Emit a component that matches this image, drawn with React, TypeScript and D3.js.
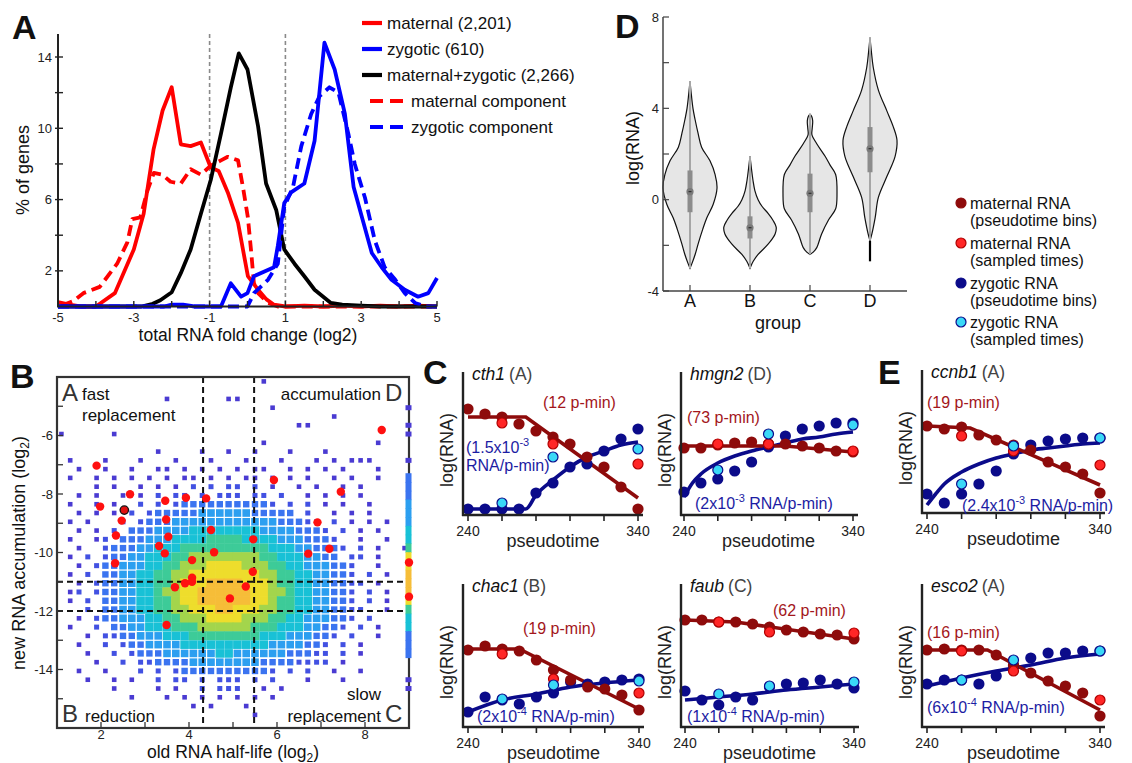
import React from "react";
import * as d3 from "d3";

const FONT = "'Liberation Sans', Arial, Helvetica, sans-serif";

// ---------- A: % of genes per bin of total RNA fold change (log2)
const maternalPct: [number, number][] = [
  [-5, 0.25], [-4.7, 0.1], [-4.4, 0], [-4.0, 0], [-3.5, 0.75], [-3.0, 3.2], [-2.74, 5.2],
  [-2.48, 8.8], [-2.24, 11], [-2.0, 12.3], [-1.76, 9.1], [-1.5, 9.0], [-1.23, 9.2],
  [-0.97, 7.8], [-0.76, 7.6], [-0.52, 6.4], [-0.25, 4.7], [0.01, 1.7], [0.28, 0.94],
  [0.5, 0.4], [0.7, 0.1], [1.0, 0], [1.5, 0.05], [2.0, 0], [2.5, 0.05], [3.0, 0],
  [3.5, 0.05], [4.0, 0], [4.5, 0.05], [5.0, 0],
];
const maternalComponentPct: [number, number][] = [
  [-4.9, 0.05], [-4.6, 0.3], [-4.33, 0.75], [-3.9, 1.1], [-3.44, 2.4], [-3.17, 3.6],
  [-3.04, 4.9], [-2.83, 5.0], [-2.64, 6.5], [-2.47, 7.5], [-2.25, 7.4], [-2.03, 7.0],
  [-1.76, 6.9], [-1.5, 7.7], [-1.23, 7.4], [-0.97, 7.9], [-0.7, 8.2], [-0.52, 8.4],
  [-0.25, 8.2], [-0.12, 6.7], [0.01, 5.0], [0.1, 3.0], [0.17, 1.3], [0.28, 0.75],
  [0.54, 0.2], [0.8, 0], [5, 0],
];
const bothPct: [number, number][] = [
  [-5, 0], [-2.8, 0], [-2.5, 0.15], [-2.3, 0.35], [-2.0, 0.8], [-1.76, 1.87], [-1.5, 3.2],
  [-1.23, 5.2], [-0.97, 7.1], [-0.7, 9.7], [-0.44, 12.3], [-0.23, 14.2], [0, 13.3],
  [0.28, 10.1], [0.49, 6.9], [0.76, 5.4], [0.97, 3.2], [1.24, 2.4], [1.5, 1.7],
  [1.77, 0.94], [2.2, 0.2], [2.5, 0.1], [3, 0.05], [3.5, 0], [5, 0],
];
const zygoticPct: [number, number][] = [
  [-5, 0], [-2.2, 0], [-2.0, 0.1], [-1.7, 0.1], [-1.4, 0], [-0.7, 0], [-0.44, 1.3],
  [-0.17, 0.55], [0.0, 0.75], [0.17, 1.7], [0.7, 2.2], [0.8, 3.4], [0.97, 5.8],
  [1.15, 6.4], [1.5, 6.9], [1.77, 9.3], [2.03, 14.8], [2.3, 13.3], [2.57, 10.8],
  [2.8, 6.7], [3.06, 4.7], [3.28, 3.0], [3.54, 2.2], [3.8, 1.5], [4.15, 0.94],
  [4.5, 0.55], [4.77, 0.75], [5.0, 1.6],
];
const zygoticComponentPct: [number, number][] = [
  [-5, 0], [0.0, 0], [0.17, 0.75], [0.54, 1.5], [0.8, 2.4], [0.97, 5.6], [1.2, 6.7],
  [1.42, 9.0], [1.68, 10.8], [1.9, 11.8], [2.16, 12.3], [2.4, 12.0], [2.66, 9.7],
  [2.83, 8.0], [3.1, 6.1], [3.36, 3.7], [3.62, 2.2], [3.9, 1.5], [4.15, 0.75],
  [4.42, 0.2], [4.7, 0], [5, 0],
];
const histLegend = [
  "maternal (2,201)",
  "zygotic (610)",
  "maternal+zygotic (2,266)",
  "maternal component",
  "zygotic component",
];
const foldTicks = [-5, -4, -3, -2, -1, 0, 1, 2, 3, 4, 5];
const foldLabels = [-5, -3, -1, 1, 3, 5];
const pctTicks = [2, 4, 6, 8, 10, 12, 14];
const pctLabels = [2, 6, 10, 14];
const foldCuts = [-1, 1];

// ---------- D: violins of log(RNA) per group
const groups = ["A", "B", "C", "D"];
const violinA: [number, number][] = [
  [-3.0, 0], [-2.8, 0.07], [-2.4, 0.19], [-1.9, 0.31], [-1.3, 0.47], [-0.8, 0.62],
  [-0.2, 0.86], [0.5, 1.0], [1.1, 0.93], [1.7, 0.74], [2.3, 0.43], [2.9, 0.3],
  [3.5, 0.19], [4.0, 0.11], [4.6, 0.05], [5.2, 0],
];
const violinB: [number, number][] = [
  [-3.0, 0], [-2.7, 0.12], [-2.4, 0.3], [-1.95, 0.67], [-1.5, 0.93], [-1.2, 0.97],
  [-0.9, 0.85], [-0.6, 0.67], [-0.3, 0.45], [0, 0.3], [0.4, 0.18], [0.85, 0.11],
  [1.4, 0.05], [1.9, 0],
];
const violinC: [number, number][] = [
  [-2.4, 0], [-2.3, 0.12], [-2.1, 0.25], [-1.5, 0.43], [-0.9, 0.68], [-0.4, 0.95],
  [0.25, 1.0], [1.1, 0.95], [1.5, 0.75], [1.9, 0.56], [2.45, 0.25], [2.85, 0.07],
  [3.1, 0.08], [3.45, 0.1], [3.65, 0.06], [3.75, 0],
];
const violinD: [number, number][] = [
  [-1.8, 0], [-1.5, 0.07], [-0.8, 0.19], [0.1, 0.31], [1.0, 0.62], [1.9, 0.93],
  [2.6, 1.0], [3.2, 0.86], [3.9, 0.62], [4.8, 0.31], [5.8, 0.12], [6.5, 0.05], [7.1, 0],
];
const violins = [violinA, violinB, violinC, violinD];
const groupMedian = [0.35, -1.23, 0.28, 2.23];
const groupQ1 = [-0.55, -1.7, -0.55, 1.2];
const groupQ3 = [1.28, -0.73, 1.14, 3.18];
const groupMin = [-3.0, -3.0, -2.4, -1.8];
const groupMax = [5.2, 1.9, 3.75, 7.1];
const groupDTail = -2.7;
const rnaTicks = [-4, -2, 0, 2, 4, 6, 8];
const rnaLabels = [-4, 0, 4, 8];

// ---------- legend of C / E
const dotLegend = [
  ["maternal RNA", "(pseudotime bins)"],
  ["maternal RNA", "(sampled times)"],
  ["zygotic RNA", "(pseudotime bins)"],
  ["zygotic RNA", "(sampled times)"],
];

// ---------- B: old RNA half-life vs new RNA accumulation (density of genes)
const halfLifeTicks = [2, 3, 4, 5, 6, 7, 8];
const halfLifeLabels = [2, 4, 6, 8];
const accumTicks = [-5, -6, -7, -8, -9, -10, -11, -12, -13, -14, -15];
const accumLabels = [-6, -8, -10, -12, -14];
const halfLifeCuts = [4.32, 5.48];
const accumCuts = [-11, -12];
// density bins: column c -> half-life 1.1 + 0.2c, row r -> accumulation -4.15 - 0.3r
const binX0 = 1.1, binDX = 0.2, binY0 = -4.15, binDY = 0.3;
const densityRows = [
  ["..........", "..........", "...1......", ".........."],
  ["..........", "..........", "..........", ".........."],
  ["..........", "..1......1", "1.........", ".........."],
  ["..........", "..........", "....1.....", ".........."],
  ["..........", "..........", "..........", ".1........"],
  ["..........", "..........", ".......11.", ".........."],
  ["1.....1...", "..........", "..........", ".........."],
  ["..........", "..........", "...1......", "......1..."],
  ["..........", ".1....1..1", "..1...1...", "1........."],
  [".1...1...1", "...1...1..", ".1...1...1", ".1.111...."],
  ["..1..1..1.", ".11.1.1.1.", "1.11..1.1.", "1.1...1..."],
  [".1..1.1.1.", "1.1.11.1.1", ".11.1.1.1.", ".1.1..1..."],
  ["....1.1..1", ".1.1.2.2.2", "2.2.1..1.1", "..1.1....."],
  ["..1.1..1.1", ".2.22.2.22", "2.22.2..1.", "1.1.1....."],
  [".1..1.1..2", ".2.2333333", "33332.2.2.", "1.1..1...."],
  ["..1.1.1.2.", "2333334444", "4433333.2.", ".1.1.1...."],
  [".1.1...2.2", "3334444444", "4444433322", ".2.1.1.1.."],
  ["..1.1.2.33", "3444455555", "5554444333", "2.2.1.1..."],
  [".1..12.333", "4445555666", "6555544433", "32..1..1.."],
  ["..1..23334", "4555666666", "6666555443", "332.2.1..1."],
  [".1.2.23344", "5556677777", "7776655544", "33.22.1..."],
  ["..1.233444", "5566777888", "8777665544", "4332..1..."],
  [".1.2.33445", "5667788888", "8887766554", "4332.2.1.."],
  ["..1.233445", "5667888999", "9888766554", "43322.1..."],
  [".12.233445", "5677889999", "9988776554", "4332.2.1.."],
  [".1.2.33445", "5667889999", "9988766554", "4332.2.1.."],
  ["...2.33445", "5667788899", "8887766554", "43322..1.."],
  ["..1.233444", "5566777888", "8777665544", "4332.2...."],
  [".1..2.3344", "5556667777", "7766655544", "332.2.1..."],
  ["...1.22334", "4455566666", "6665554443", "32.2..1..."],
  ["..1..2.233", "4444555555", "5555444433", "2.2.1....."],
  ["...1..2.23", "3344444455", "4444443332", "2.2.1....."],
  ["....1..2.2", "2333344444", "4443333222", "2.1......."],
  ["..1..1...2", ".2.2333333", "33332.2.2.", ".1..1....."],
  ["...1..1.1.", ".2.22.2.22", "2.2.2...1.", "..1......."],
  ["......1...", ".1.1..2.22", "2..1.1....", ".........."],
  ["........1.", "..1.1.1.1.", "1.1.1.....", ".........."],
  ["..........", ".....1.1..", ".1........", ".........."],
  ["..........", "..........", "..1.......", ".........."],
  ["..........", "..........", "..........", ".........."],
].map((g) => g.join("").slice(0, 40));
// genes with half-life beyond the axis, piled on the right edge (same rows)
const edgeColumn = "...1.11..1.333444556889998655333..11....";
const highlightGenes: [number, number][] = [
  [1.9, -7.03], [1.98, -8.43], [2.66, -8.01], [2.47, -8.91], [2.34, -9.42],
  [2.32, -10.37], [3.46, -8.23], [3.93, -8.13], [4.39, -8.15], [3.48, -8.87],
  [3.53, -9.46], [3.32, -9.78], [3.45, -10.03], [4.07, -10.26], [4.5, -9.23],
  [4.57, -9.99], [4.07, -10.86], [4.07, -11.0], [3.91, -11.05], [3.68, -11.19],
  [3.49, -12.48], [4.93, -11.57], [5.29, -11.16], [5.45, -10.66], [5.46, -9.55],
  [5.93, -7.52], [7.45, -7.92], [6.92, -8.97], [6.71, -10.04], [7.19, -9.87],
  [8.38, -5.81], [9, -10.34], [9, -11.51],
];
const outlinedGene: [number, number] = [2.53, -8.55];

// ---------- C / E: time courses (log RNA in arbitrary units)
const binTimes = [240, 250, 260, 270, 280, 290, 300, 310, 320, 330, 340];
const sampledTimes = [260, 290, 340];
const timeTicks = [240, 260, 280, 300, 320, 340];
const timeLabels = [240, 340];

const cth1 = {
  name: "cth1", group: "A", halfLife: "12", rate: ["1.5x10", "-3"],
  matBins: [11.1, 10.6, 10.3, 9.6, 8.9, 8.3, 7.6, 6.3, 5.3, 3.3, 1.1],
  matSampled: [9.7, 7.6, 5.6],
  zygBins: [1.1, 1.1, 1.1, 1.1, 2.7, 3.7, 5.3, 5.6, 6.9, 8.1, 9.1],
  zygSampled: [1.7, 6.3, 7.1],
  matFit: [[240, 10.3], [274, 10.3], [340, 2.2]],
  zygFit: [[240, 1.1], [274, 1.1], [280, 2.5], [290, 4.0], [300, 5.3], [310, 6.3], [320, 6.9], [330, 7.5], [340, 7.8]],
};
const hmgn2 = {
  name: "hmgn2", group: "D", halfLife: "73", rate: ["2x10", "-3"],
  matBins: [7.2, 7.2, 7.5, 7.7, 7.8, 7.6, 7.6, 7.4, 7.2, 6.9, 6.8],
  matSampled: [7.6, 7.6, 6.9],
  zygBins: [2.8, 3.7, 4.1, 4.9, 5.8, 7.3, 8.4, 9.1, 9.4, 9.7, 9.7],
  zygSampled: [5.0, 8.6, 9.5],
  matFit: [[240, 7.4], [300, 7.4], [340, 6.8]],
  zygFit: [[240, 2.3], [245, 3.7], [250, 4.6], [260, 5.7], [270, 6.4], [280, 6.9], [290, 7.3], [300, 7.7], [310, 8.1], [320, 8.3], [330, 8.6], [340, 8.8]],
};
const chac1 = {
  name: "chac1", group: "B", halfLife: "19", rate: ["2x10", "-4"],
  matBins: [8.2, 8.6, 8.3, 8.1, 7.2, 6.2, 5.2, 4.5, 4.3, 3.7, 2.2],
  matSampled: [7.8, 5.3, 3.9],
  zygBins: [2.0, 3.5, 3.2, 2.8, 3.5, 3.9, 5.0, 4.8, 5.0, 5.2, 5.3],
  zygSampled: [3.3, 4.7, 5.1],
  matFit: [[240, 8.3], [270, 8.3], [340, 2.3]],
  zygFit: [[240, 2.0], [260, 3.2], [280, 3.8], [300, 4.5], [320, 4.9], [340, 5.2]],
};
const faub = {
  name: "faub", group: "C", halfLife: "62", rate: ["1x10", "-4"],
  matBins: [11.2, 11.2, 11.0, 11.0, 10.8, 10.5, 10.2, 10.0, 9.8, 9.7, 9.3],
  matSampled: [11.0, 10.0, 9.9],
  zygBins: [4.1, 3.2, 2.7, 3.5, 3.2, 4.5, 4.8, 4.9, 5.2, 4.8, 4.4],
  zygSampled: [3.8, 4.6, 5.0],
  matFit: [[240, 11.2], [270, 11.0], [340, 9.3]],
  zygFit: [[240, 3.2], [260, 3.5], [280, 3.8], [300, 4.2], [320, 4.5], [340, 4.8]],
};
const ccnb1 = {
  name: "ccnb1", group: "A", halfLife: "19", rate: ["2.4x10", "-3"],
  matBins: [9.2, 8.9, 9.1, 8.3, 7.8, 7.3, 6.8, 5.6, 5.1, 4.4, 2.5],
  matSampled: [8.2, 6.7, 5.3],
  zygBins: [2.4, 1.5, 2.4, 3.4, 4.7, 6.4, 7.3, 7.7, 7.9, 8.0, 8.0],
  zygSampled: [3.4, 7.2, 8.0],
  matFit: [[240, 9.2], [265, 9.0], [340, 3.3]],
  zygFit: [[240, 1.3], [245, 2.4], [250, 3.4], [260, 4.6], [270, 5.4], [280, 6.0], [290, 6.4], [300, 6.8], [310, 7.0], [320, 7.2], [330, 7.4], [340, 7.5]],
};
const esco2 = {
  name: "esco2", group: "A", halfLife: "16", rate: ["6x10", "-4"],
  matBins: [8.2, 8.3, 8.2, 8.2, 7.7, 6.7, 5.9, 5.1, 4.6, 3.9, 1.6],
  matSampled: [8.1, 6.1, 3.2],
  zygBins: [4.8, 5.2, 5.2, 4.8, 5.6, 6.6, 7.4, 7.9, 7.9, 8.1, 8.1],
  zygSampled: [5.2, 7.2, 8.1],
  matFit: [[240, 8.2], [275, 8.2], [340, 2.2]],
  zygFit: [[240, 4.6], [260, 5.4], [280, 6.1], [300, 6.7], [320, 7.4], [340, 7.8]],
};

const MAT_DARK = "#8e0b0b";
const MAT_LIGHT = "#ff2626";
const ZYG_DARK = "#0b0b8a";
const ZYG_LIGHT = "#3ad8f7";
const MAT_TEXT = "#a3161b";
const ZYG_TEXT = "#1c1ca3";

function PanelA() {
  const x = d3.scaleLinear().domain([-5, 5]).range([58, 437]);
  const y = d3.scaleLinear().domain([0, 14]).range([306.5, 57]);
  const line = d3.line<[number, number]>().x((d) => x(d[0])).y((d) => y(d[1]));
  const styles = [
    { color: "#ff0000", dash: undefined },
    { color: "#0000ff", dash: undefined },
    { color: "#000000", dash: undefined },
    { color: "#ff0000", dash: "11 6" },
    { color: "#0000ff", dash: "11 6" },
  ];
  const series = [maternalPct, zygoticPct, bothPct, maternalComponentPct, zygoticComponentPct];
  const order = [3, 0, 2, 1, 4];
  const legendY = [23, 49, 75, 101, 127];
  return (
    <g>
      {foldCuts.map((v) => (
        <line key={v} x1={x(v)} x2={x(v)} y1={34} y2={306} stroke="#8a8a8a" strokeWidth={1.6} strokeDasharray="4 3" />
      ))}
      {order.map((i) => (
        <path key={i} d={line(series[i]) || ""} fill="none" stroke={styles[i].color}
          strokeWidth={3.8} strokeDasharray={styles[i].dash} strokeLinejoin="round" />
      ))}
      <line x1={58} x2={58} y1={34} y2={307} stroke="#222" strokeWidth={2} />
      <line x1={57} x2={437} y1={306.5} y2={306.5} stroke="#222" strokeWidth={2} />
      {pctTicks.map((t) => (
        <line key={t} x1={55} x2={63} y1={y(t)} y2={y(t)} stroke="#222" strokeWidth={1.4} />
      ))}
      {pctLabels.map((t) => (
        <text key={t} x={52} y={y(t) + 4.5} textAnchor="end" fontSize={13} fill="#222">{t}</text>
      ))}
      {foldTicks.map((t) => (
        <line key={t} x1={x(t)} x2={x(t)} y1={301} y2={306.5} stroke="#222" strokeWidth={1.4} />
      ))}
      {foldLabels.map((t) => (
        <text key={t} x={x(t)} y={322} textAnchor="middle" fontSize={13} fill="#222">{t}</text>
      ))}
      <text x={248} y={341} textAnchor="middle" fontSize={17.5} fill="#111">total RNA fold change (log2)</text>
      <text transform="translate(29,170) rotate(-90)" textAnchor="middle" fontSize={18} fill="#111">% of genes</text>
      {histLegend.map((label, i) => {
        const dashed = !!styles[i].dash;
        const lx0 = dashed ? 370 : 362;
        const lx1 = dashed ? 405 : 382;
        return (
          <g key={label}>
            <line x1={lx0} x2={lx1} y1={legendY[i]} y2={legendY[i]} stroke={styles[i].color}
              strokeWidth={4.2} strokeDasharray={dashed ? "13 7" : undefined} />
            <text x={dashed ? 411 : 387} y={legendY[i] + 6} fontSize={17} fill="#111">{label}</text>
          </g>
        );
      })}
    </g>
  );
}

function PanelD() {
  const x = d3.scalePoint<string>().domain(groups).range([690, 870]);
  const y = d3.scaleLinear().domain([-4, 8]).range([291, 17]);
  const w = d3.scaleLinear().domain([0, 1]).range([0, 27]);
  return (
    <g>
      {groups.map((g, i) => {
        const cx = x(g) as number;
        const area = d3.area<[number, number]>()
          .y((d) => y(d[0]))
          .x0((d) => cx - w(d[1]))
          .x1((d) => cx + w(d[1]))
          .curve(d3.curveCatmullRom);
        return (
          <g key={g}>
            <path d={area(violins[i]) || ""} fill="#e6e6e6" stroke="#111" strokeWidth={1.2} />
            <line x1={cx} x2={cx} y1={y(groupMin[i])} y2={y(groupMax[i])} stroke="#a6a6a6" strokeWidth={2} />
            <line x1={cx} x2={cx} y1={y(groupQ1[i])} y2={y(groupQ3[i])} stroke="#8c8c8c" strokeWidth={5} />
            <circle cx={cx} cy={y(groupMedian[i])} r={3.6} fill="#7a7a7a" />
            <line x1={cx - 1.5} x2={cx + 1.5} y1={y(groupMedian[i])} y2={y(groupMedian[i])} stroke="#222" strokeWidth={1} />
          </g>
        );
      })}
      <line x1={x("D") as number} x2={x("D") as number} y1={y(groupMin[3])} y2={y(groupDTail)} stroke="#000" strokeWidth={2.2} />
      <line x1={663} x2={663} y1={17} y2={291} stroke="#444" strokeWidth={1.5} />
      <line x1={663} x2={907} y1={291} y2={291} stroke="#444" strokeWidth={1.5} />
      {rnaTicks.map((t) => (
        <line key={t} x1={663} x2={669} y1={y(t)} y2={y(t)} stroke="#444" strokeWidth={1.2} />
      ))}
      {rnaLabels.map((t) => (
        <text key={t} x={659} y={y(t) + 4.5} textAnchor="end" fontSize={13} fill="#222">{t}</text>
      ))}
      {groups.map((g) => (
        <g key={g}>
          <line x1={x(g) as number} x2={x(g) as number} y1={285} y2={291} stroke="#444" strokeWidth={1.2} />
          <text x={x(g) as number} y={307} textAnchor="middle" fontSize={18} fill="#111">{g}</text>
        </g>
      ))}
      <text x={778} y={329} textAnchor="middle" fontSize={18} fill="#111">group</text>
      <text transform="translate(639,148) rotate(-90)" textAnchor="middle" fontSize={18} fill="#111">log(RNA)</text>
    </g>
  );
}

function LegendCE() {
  const fills = [MAT_DARK, MAT_LIGHT, ZYG_DARK, ZYG_LIGHT];
  const strokes = [MAT_DARK, "#b00000", ZYG_DARK, ZYG_DARK];
  const rowY = [203, 243, 283, 322];
  return (
    <g>
      {dotLegend.map((lines, i) => (
        <g key={i}>
          <circle cx={961} cy={rowY[i]} r={5} fill={fills[i]} stroke={strokes[i]} strokeWidth={1.2} />
          <text x={970} y={rowY[i] + 5.5} fontSize={16} fill="#111">{lines[0]}</text>
          <text x={970} y={rowY[i] + 23} fontSize={16} fill="#111">{lines[1]}</text>
        </g>
      ))}
    </g>
  );
}

function PanelB() {
  const x = d3.scaleLinear().domain([1, 9]).range([57, 409]);
  const y = d3.scaleLinear().domain([-4, -16]).range([377, 728]);
  const colors = ["", "#4a3bd2", "#4251e2", "#3b74f0", "#2c9ff0", "#18c1d6", "#3dcb98", "#a3d54c", "#eedd2c", "#f6bd38"];
  const sizes = [0, 4.6, 5, 6.4, 7.6, 8.6, 9.1, 9.4, 9.4, 9.4];
  const cells: React.ReactNode[] = [];
  densityRows.forEach((row, r) => {
    for (let c = 0; c < row.length; c++) {
      const lv = Number(row[c]);
      if (!lv) continue;
      const s = sizes[lv];
      cells.push(
        <rect key={`${r}-${c}`} x={x(binX0 + c * binDX) - s / 2} y={y(binY0 - r * binDY) - s / 2}
          width={s} height={s} fill={colors[lv]} />
      );
    }
  });
  const edge: React.ReactNode[] = [];
  for (let r = 0; r < edgeColumn.length; r++) {
    const lv = Number(edgeColumn[r]);
    if (!lv) continue;
    const h = lv >= 3 ? 9.4 : 5;
    edge.push(<rect key={r} x={x(9) - 3.5} y={y(binY0 - r * binDY) - h / 2} width={6} height={h} fill={colors[lv]} />);
  }
  return (
    <g>
      {cells}
      {halfLifeCuts.map((v) => (
        <line key={v} x1={x(v)} x2={x(v)} y1={377} y2={728} stroke="#111" strokeWidth={2} strokeDasharray="6 4" />
      ))}
      {accumCuts.map((v) => (
        <line key={v} x1={57} x2={409} y1={y(v)} y2={y(v)} stroke="#111" strokeWidth={2} strokeDasharray="6 4" />
      ))}
      <rect x={57} y={377} width={352} height={351} fill="none" stroke="#333" strokeWidth={2.2} />
      {edge}
      {highlightGenes.map(([hx, hy], i) => (
        <circle key={i} cx={x(hx)} cy={y(hy)} r={4.2} fill="#ff1010" />
      ))}
      <circle cx={x(outlinedGene[0])} cy={y(outlinedGene[1])} r={4.2} fill="#e01010" stroke="#111" strokeWidth={1.3} />
      {halfLifeTicks.map((t) => (
        <line key={t} x1={x(t)} x2={x(t)} y1={722} y2={728} stroke="#333" strokeWidth={1.3} />
      ))}
      {halfLifeLabels.map((t) => (
        <text key={t} x={x(t)} y={739} textAnchor="middle" fontSize={13} fill="#222">{t}</text>
      ))}
      {accumTicks.map((t) => (
        <line key={t} x1={57} x2={63} y1={y(t)} y2={y(t)} stroke="#333" strokeWidth={1.3} />
      ))}
      {accumLabels.map((t) => (
        <text key={t} x={53} y={y(t) + 4.5} textAnchor="end" fontSize={13} fill="#222">{t}</text>
      ))}
      <text x={233} y={758} textAnchor="middle" fontSize={17.5} fill="#111">
        old RNA half-life (log<tspan dy={3.5} fontSize={12}>2</tspan><tspan dy={-3.5}>)</tspan>
      </text>
      <text transform="translate(25,553) rotate(-90)" textAnchor="middle" fontSize={18} fill="#111">
        new RNA accumulation (log<tspan dy={4} fontSize={12}>2</tspan><tspan dy={-4}>)</tspan>
      </text>
      <g fill="#333">
        <text x={62} y={401} fontSize={24}>A</text>
        <text x={82} y={400} fontSize={17} fill="#111">fast</text>
        <text x={82} y={421} fontSize={17} fill="#111">replacement</text>
        <text x={381} y={400} textAnchor="end" fontSize={17} fill="#111">accumulation</text>
        <text x={385} y={401} fontSize={24}>D</text>
        <text x={62} y={722} fontSize={24}>B</text>
        <text x={85} y={722} fontSize={17} fill="#111">reduction</text>
        <text x={381} y={700} textAnchor="end" fontSize={17} fill="#111">slow</text>
        <text x={381} y={722} textAnchor="end" fontSize={17} fill="#111">replacement</text>
        <text x={385} y={722} fontSize={24}>C</text>
      </g>
    </g>
  );
}

type Gene = typeof cth1;
type Layout = {
  x0: number; axisY: number; xL: number; xR: number;
  mat: [number, number]; zyg: [number, number]; twoLine?: boolean;
};

function TimeCourse({ gene, lay }: { gene: Gene; lay: Layout }) {
  const x = d3.scaleLinear().domain([240, 340]).range([lay.xL, lay.xR]);
  const y = d3.scaleLinear().domain([0, 15]).range([lay.axisY + 5, lay.axisY - 145]);
  const fit = d3.line<number[]>().x((d) => x(d[0])).y((d) => y(d[1]));
  const smooth = d3.line<number[]>().x((d) => x(d[0])).y((d) => y(d[1])).curve(d3.curveMonotoneX);
  const r = 5.6;
  const [mant, exp] = gene.rate;
  return (
    <g>
      <path d={smooth(gene.zygFit) || ""} fill="none" stroke={ZYG_DARK} strokeWidth={3.6} />
      <path d={fit(gene.matFit) || ""} fill="none" stroke={MAT_DARK} strokeWidth={3.6} />
      {gene.zygBins.map((v, i) => (
        <circle key={`zb${i}`} cx={x(binTimes[i])} cy={y(v)} r={r} fill={ZYG_DARK} />
      ))}
      {gene.matBins.map((v, i) => (
        <circle key={`mb${i}`} cx={x(binTimes[i])} cy={y(v)} r={r} fill={MAT_DARK} />
      ))}
      {gene.matSampled.map((v, i) => (
        <circle key={`ms${i}`} cx={x(sampledTimes[i])} cy={y(v)} r={r - 0.6} fill={MAT_LIGHT} stroke="#b00000" strokeWidth={1.2} />
      ))}
      {gene.zygSampled.map((v, i) => (
        <circle key={`zs${i}`} cx={x(sampledTimes[i])} cy={y(v)} r={r - 0.6} fill={ZYG_LIGHT} stroke={ZYG_DARK} strokeWidth={1.2} />
      ))}
      <line x1={lay.x0} x2={lay.x0} y1={lay.axisY - 143} y2={lay.axisY + 1} stroke="#222" strokeWidth={2.4} />
      <line x1={lay.x0 - 1} x2={lay.xR + 5} y1={lay.axisY} y2={lay.axisY} stroke="#222" strokeWidth={2.4} />
      {timeTicks.map((t) => (
        <line key={t} x1={x(t)} x2={x(t)} y1={lay.axisY} y2={lay.axisY + 6} stroke="#222" strokeWidth={1.6} />
      ))}
      {timeLabels.map((t) => (
        <text key={t} x={x(t)} y={lay.axisY + 21} textAnchor="middle" fontSize={14} fill="#222">{t}</text>
      ))}
      <text x={(lay.xL + lay.xR) / 2} y={lay.axisY + 32} textAnchor="middle" fontSize={18} fill="#222">pseudotime</text>
      <text transform={`translate(${lay.x0 - 10},${lay.axisY - 65}) rotate(-90)`} textAnchor="middle" fontSize={18} fill="#222">log(RNA)</text>
      <text x={lay.x0 + 9} y={lay.axisY - 135} fontSize={17.5} fill="#111">
        <tspan fontStyle="italic">{gene.name}</tspan>
        <tspan fill="#444" dx={4}>({gene.group})</tspan>
      </text>
      <text x={lay.mat[0]} y={lay.mat[1]} fontSize={16} fill={MAT_TEXT}>({gene.halfLife} p-min)</text>
      {lay.twoLine ? (
        <g fill={ZYG_TEXT} fontSize={16}>
          <text x={lay.zyg[0]} y={lay.zyg[1]}>
            ({mant}<tspan dy={-7} fontSize={11}>{exp}</tspan>
          </text>
          <text x={lay.zyg[0]} y={lay.zyg[1] + 18}>RNA/p-min)</text>
        </g>
      ) : (
        <text x={lay.zyg[0]} y={lay.zyg[1]} fontSize={16} fill={ZYG_TEXT}>
          ({mant}<tspan dy={-7} fontSize={11}>{exp}</tspan><tspan dy={7}> RNA/p-min)</tspan>
        </text>
      )}
    </g>
  );
}

const timeGenes = [cth1, hmgn2, chac1, faub, ccnb1, esco2];
const timeLayouts: Layout[] = [
  { x0: 463, axisY: 515, xL: 468, xR: 638, mat: [543, 408], zyg: [466, 453], twoLine: true },
  { x0: 681, axisY: 515, xL: 684, xR: 853, mat: [687, 423], zyg: [695, 509] },
  { x0: 463, axisY: 727, xL: 468, xR: 639, mat: [523, 634], zyg: [477, 722] },
  { x0: 681, axisY: 727, xL: 685, xR: 854, mat: [773, 616], zyg: [687, 722] },
  { x0: 922, axisY: 513, xL: 927, xR: 1100, mat: [927, 408], zyg: [962, 511] },
  { x0: 922, axisY: 727, xL: 927, xR: 1100, mat: [927, 638], zyg: [927, 713] },
];

export default function App() {
  return (
    <svg width={1132} height={763} fontFamily={FONT}
      style={{ position: "absolute", left: 0, top: 0, background: "#fff" }}>
      <rect width={1132} height={763} fill="#fff" />
      <PanelA />
      <PanelD />
      <LegendCE />
      <PanelB />
      {timeGenes.map((g, i) => (
        <TimeCourse key={g.name} gene={g} lay={timeLayouts[i]} />
      ))}
      <g fontSize={34} fontWeight="bold" fill="#111">
        <text x={12} y={39}>A</text>
        <text x={615} y={38}>D</text>
        <text x={10} y={388}>B</text>
        <text x={423} y={384}>C</text>
        <text x={878} y={384}>E</text>
      </g>
    </svg>
  );
}
